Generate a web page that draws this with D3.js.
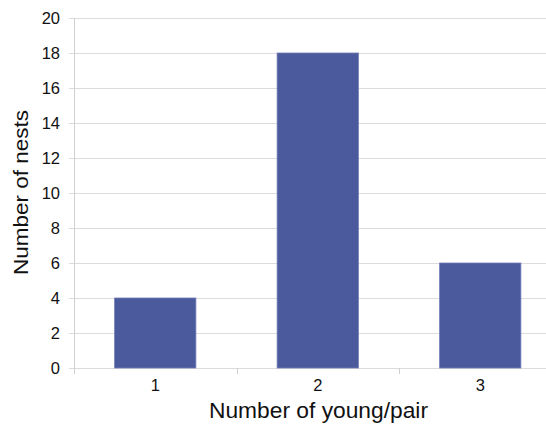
<!DOCTYPE html>
<html><head><meta charset="utf-8">
<script src="https://cdn.jsdelivr.net/npm/d3@7"></script>
<style>body{margin:0;background:#fff}svg{display:block}</style>
</head><body>
<script>
const categories = ["1", "2", "3"];
const values = [4, 18, 6];
const yTicks = [0, 2, 4, 6, 8, 10, 12, 14, 16, 18, 20];

(function () {
const W = 546, H = 431;
const svg = d3.select("body").append("svg").attr("width", W).attr("height", H);
const mLeft = 74, mTop = 18, mBottom = 368, mRight = 561.5;
const FF = "Liberation Sans, Arial, sans-serif";

const x = d3.scaleBand().domain(categories).range([mLeft, mRight]).paddingInner(0.5).paddingOuter(0.25);
const y = d3.scaleLinear().domain([0, 20]).range([mBottom, mTop]);

// grid
svg.append("g").selectAll("line").data(yTicks).join("line")
  .attr("x1", mLeft - 5).attr("x2", W)
  .attr("y1", d => y(d) + 0.5).attr("y2", d => y(d) + 0.5)
  .attr("stroke", "#dcdcdc").attr("stroke-width", 1);

// left axis line
svg.append("line").attr("x1", mLeft + 0.5).attr("x2", mLeft + 0.5)
  .attr("y1", mTop).attr("y2", mBottom + 5).attr("stroke", "#d0d0d0");

// x ticks at category boundaries
const bounds = [mLeft, ...categories.slice(1).map(c => x(c) - x.step() * x.paddingInner() / 2)];
svg.append("g").selectAll("line").data(bounds).join("line")
  .attr("x1", d => Math.round(d) + 0.5).attr("x2", d => Math.round(d) + 0.5)
  .attr("y1", mBottom).attr("y2", mBottom + 6).attr("stroke", "#d0d0d0");

// bars
svg.append("g").selectAll("rect").data(values).join("rect")
  .attr("x", (d, i) => x(categories[i]))
  .attr("width", x.bandwidth())
  .attr("y", d => y(d))
  .attr("height", d => y(0) - y(d))
  .attr("fill", "#4b5a9c")
  .attr("stroke", "#6f7bb5").attr("stroke-width", 0.8);

// y tick labels
svg.append("g").selectAll("text").data(yTicks).join("text")
  .attr("x", 60).attr("y", d => y(d) + 5.5)
  .attr("text-anchor", "end")
  .attr("font-family", FF).attr("font-size", 16.5)
  .attr("fill", "#111").text(d => d);

// x tick labels
svg.append("g").selectAll("text").data(categories).join("text")
  .attr("x", d => x(d) + x.bandwidth() / 2).attr("y", 390.5)
  .attr("text-anchor", "middle")
  .attr("font-family", FF).attr("font-size", 16.5)
  .attr("fill", "#111").text(d => d);

// axis titles
svg.append("text").attr("x", 318.5).attr("y", 417.5).attr("text-anchor", "middle")
  .attr("font-family", FF).attr("font-size", 22)
  .attr("textLength", 219).attr("lengthAdjust", "spacingAndGlyphs")
  .attr("fill", "#111").text("Number of young/pair");
svg.append("text").attr("transform", "translate(27.5,192.5) rotate(-90)").attr("text-anchor", "middle")
  .attr("font-family", FF).attr("font-size", 21)
  .attr("textLength", 165).attr("lengthAdjust", "spacingAndGlyphs")
  .attr("fill", "#111").text("Number of nests");
})();
</script>
</body></html>
